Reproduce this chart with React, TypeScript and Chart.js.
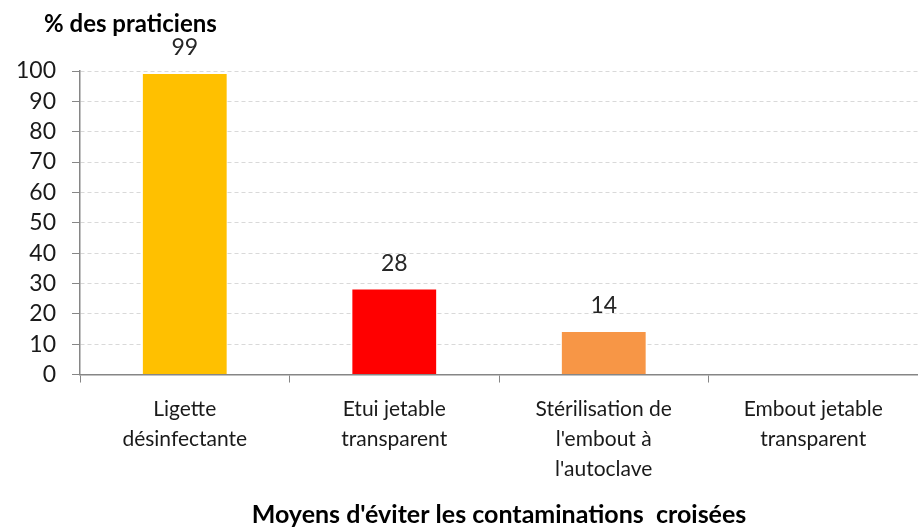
import React, { useEffect, useRef } from "react";
import { Chart, registerables } from "chart.js";

Chart.register(...registerables);

const categories: string[][] = [
  ["Ligette", "désinfectante"],
  ["Etui jetable", "transparent"],
  ["Stérilisation de", "l'embout à", "l'autoclave"],
  ["Embout jetable", "transparent"],
];
const values: number[] = [99, 28, 14, 0];
const barColors: string[] = ["#FFC000", "#FF0000", "#F79646", "#4F81BD"];
const yTitle = "% des praticiens";
const xTitle = "Moyens d'éviter les contaminations  croisées";
const yMin = 0;
const yMax = 100;
const yStep = 10;

const FONT = "Lato, 'Open Sans', sans-serif";

const labelPlugin = {
  id: "barLabels",
  afterDatasetsDraw(chart: any) {
    const ctx = chart.ctx;
    const meta = chart.getDatasetMeta(0);
    ctx.save();
    ctx.font = `23px ${FONT}`;
    ctx.fillStyle = "#262626";
    ctx.textAlign = "center";
    ctx.textBaseline = "alphabetic";
    meta.data.forEach((bar: any, i: number) => {
      const v = values[i];
      if (!v) return;
      ctx.fillText(String(v), bar.x, bar.y - 19);
    });
    // y-axis title at top-left
    ctx.font = `bold 24px ${FONT}`;
    ctx.fillStyle = "#000";
    ctx.textAlign = "left";
    ctx.textBaseline = "alphabetic";
    ctx.fillText(yTitle, chart.chartArea.left - 36, chart.chartArea.top - 39);
    ctx.restore();
  },
};

export default function App() {
  const ref = useRef<HTMLCanvasElement | null>(null);
  useEffect(() => {
    if (!ref.current) return;
    const chart = new Chart(ref.current, {
      type: "bar",
      data: {
        labels: categories,
        datasets: [
          {
            data: values,
            backgroundColor: barColors,
            borderWidth: 0,
            categoryPercentage: 1,
            barPercentage: 0.4,
          },
        ],
      },
      options: {
        animation: false,
        responsive: false,
        maintainAspectRatio: false,
        layout: { padding: { top: 71, right: 0, left: 0, bottom: 0 } },
        plugins: {
          legend: { display: false },
          tooltip: { enabled: false },
        },
        scales: {
          x: {
            grid: {
              offset: true,
              drawOnChartArea: false,
              drawTicks: true,
              tickLength: 8,
              tickColor: "#868686",
            },
            border: { color: "#868686", width: 1.5 },
            ticks: {
              color: "#1a1a1a",
              font: { family: FONT, size: 21, lineHeight: 1.42 },
              padding: 12,
              maxRotation: 0,
              autoSkip: false,
            },
            title: {
              display: true,
              text: xTitle,
              color: "#000",
              font: { family: FONT, size: 25, weight: "bold" },
              padding: { top: 4, bottom: 0 },
            },
          },
          y: {
            min: yMin,
            max: yMax,
            grid: {
              color: "#D9D9D9",
              tickColor: "#868686",
              tickLength: 8,
              tickBorderDash: [],
            },
            border: { color: "#868686", width: 1.5, dash: [4, 3] },
            ticks: {
              stepSize: yStep,
              autoSkip: false,
              color: "#1a1a1a",
              font: { family: FONT, size: 23 },
              padding: 16,
            },
          },
        },
      },
      plugins: [labelPlugin],
    } as any);
    return () => chart.destroy();
  }, []);
  return (
    <div style={{ position: "fixed", left: 0, top: 0, width: 918, height: 530, background: "#fff" }}>
      <canvas ref={ref} width={918} height={530} />
    </div>
  );
}
